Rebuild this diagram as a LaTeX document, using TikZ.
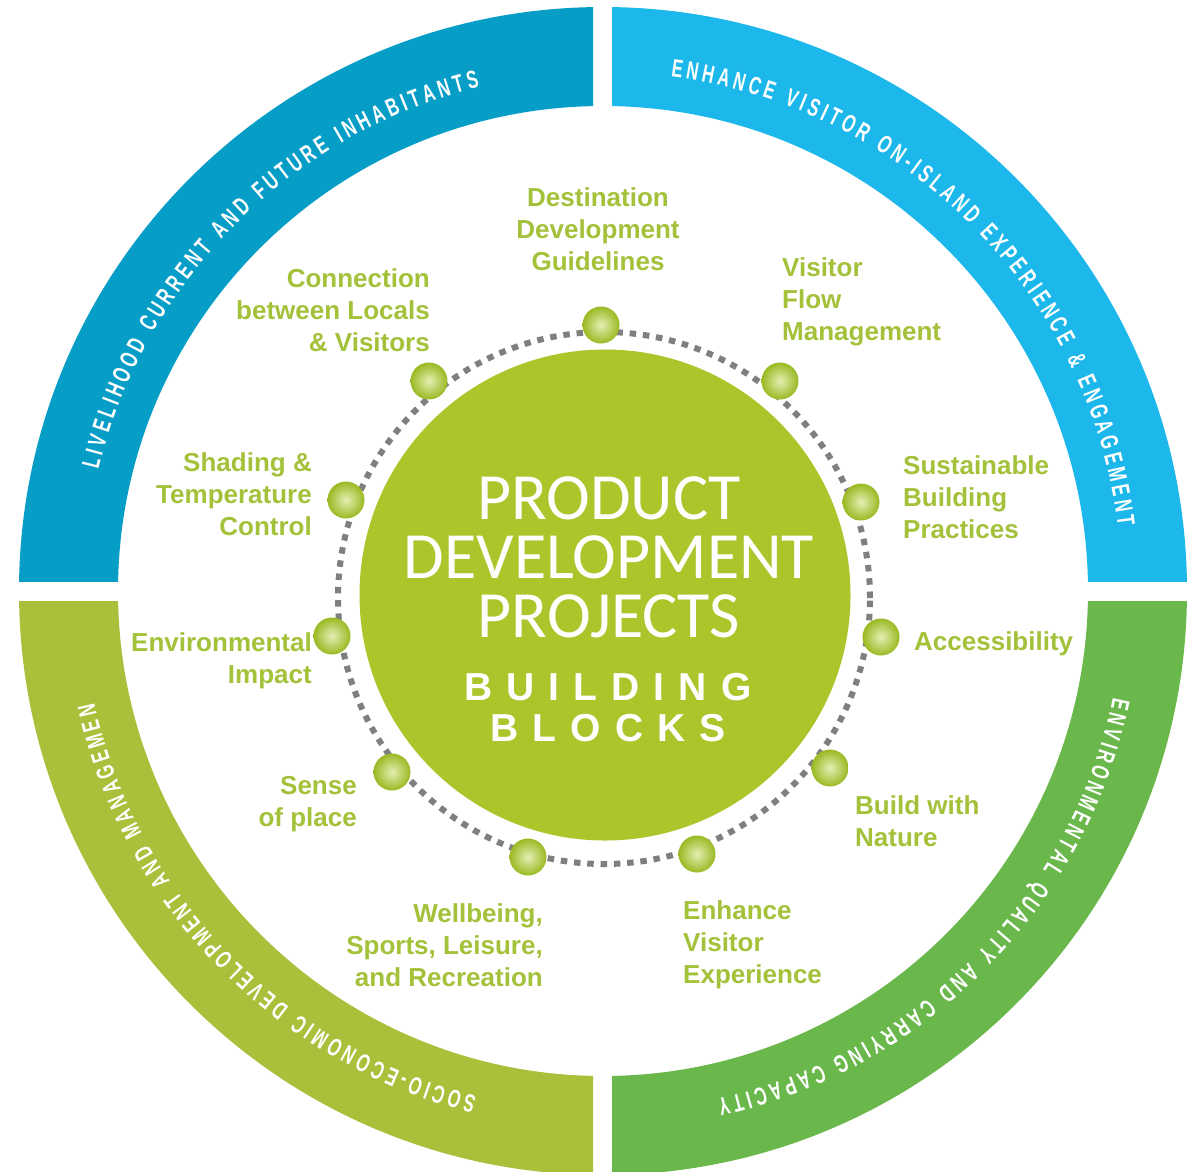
\documentclass[tikz,border=0pt]{standalone}
\usepackage{fontspec}
\setmainfont{Liberation Sans}
\newfontfamily\ringfont[FakeStretch=0.66]{Liberation Sans Bold}
\newfontfamily\titlefont{Carlito}
\newfontfamily\blockfont[LetterSpace=36]{Liberation Sans}
\usetikzlibrary{decorations.text}

\definecolor{tlblue}{HTML}{069DC7}
\definecolor{trblue}{HTML}{1DB8EB}
\definecolor{blgreen}{HTML}{A8C03A}
\definecolor{brgreen}{HTML}{6AB84B}
\definecolor{hubgreen}{HTML}{ADC52B}
\definecolor{labgreen}{HTML}{A4C13A}
\definecolor{ballhi}{HTML}{E4EEB4}
\definecolor{balllo}{HTML}{9AB922}
\definecolor{dotgray}{HTML}{7F7F7F}

\tikzset{
  lab/.style={font=\bfseries\fontsize{26}{32}\selectfont, text=labgreen, inner sep=0pt},
  ball/.style={circle, inner sep=0pt, minimum size=37pt, inner color=ballhi, outer color=balllo},
  ringtext/.style={decorate, decoration={text along path, text align=fit to path,
    text color=white, text={|\ringfont\fontsize{25}{25}\selectfont|#1}}},
}

\begin{document}
\begin{tikzpicture}[x=1pt,y=1pt]
	\useasboundingbox (0,-1171) rectangle (1194,0);
	\fill[white] (0,-1171) rectangle (1194,0);
	\coordinate (ringc) at (603,-591);
	\coordinate (dotc) at (604,-598);
	
	% outer ring, four quarters
	\foreach \col/\xa/\ya/\xb/\yb in {tlblue/0/-581/593/0, trblue/612/-581/1194/0,
		blgreen/0/-1171/593/-601, brgreen/612/-1171/1194/-601}{
		\begin{scope}
			\clip (\xa,\ya) rectangle (\xb,\yb);
			\fill[\col, even odd rule] (ringc) circle[radius=584] (ringc) circle[radius=485];
		\end{scope}
	}
	
	\path[ringtext={LIVELIHOOD CURRENT AND FUTURE INHABITANTS}]
		(ringc) ++(166.5:519) arc[start angle=166.5, end angle=103.8, radius=519];
	\path[ringtext={ENHANCE VISITOR ON-ISLAND EXPERIENCE {\&} ENGAGEMENT}]
		(ringc) ++(82.5:519) arc[start angle=82.5, end angle=7.2, radius=519];
	\path[ringtext={ENVIRONMENTAL QUALITY AND CARRYING CAPACITY}]
		(ringc) ++(-11.8:521) arc[start angle=-11.8, end angle=-77.3, radius=521];
	\path[ringtext={SOCIO-ECONOMIC DEVELOPMENT AND MANAGEMEN}]
		(ringc) ++(256:521) arc[start angle=256, end angle=192.5, radius=521];
	
	% hub
	\node[circle, fill=hubgreen, minimum size=491pt, inner sep=0pt] (hub) at (605,-595) {};
	\node[font=\titlefont\fontsize{66}{59}\selectfont, text=white, align=center, inner sep=0pt] (title) at (609,-557) {PRODUCT\\DEVELOPMENT\\PROJECTS};
	\node[font=\blockfont\bfseries\fontsize{39}{41}\selectfont, text=white, align=center, inner sep=0pt] (blocks) at (608,-707.5) {BUILDING\\BLOCKS};
	
	\draw[dotgray, line width=6pt, dash pattern=on 6.5pt off 6.8pt] (dotc) circle[radius=266];
	
	\foreach \x/\y [count=\i] in {601/325, 780/381, 861/502, 881/637, 830/768, 697/854,
		528/857, 392/772, 332/636, 346/500, 429/381}
		\node[ball] (b\i) at (\x,-\y) {};
	
	% labels
	\node[lab, align=center] (l1) at (598,-229) {Destination\\Development\\Guidelines};
	\node[lab, align=left, anchor=west] (l2) at (782,-302) {Visitor\\Flow\\Management};
	\node[lab, align=left, anchor=west] (l3) at (903,-497) {Sustainable\\Building\\Practices};
	\node[lab, align=left, anchor=west] (l4) at (914,-644) {Accessibility};
	\node[lab, align=left, anchor=west] (l5) at (855,-821) {Build with\\Nature};
	\node[lab, align=left, anchor=west] (l6) at (683,-945) {Enhance\\Visitor\\Experience};
	\node[lab, align=right, anchor=east] (l7) at (543,-945) {Wellbeing,\\Sports, Leisure,\\and Recreation};
	\node[lab, align=right, anchor=east] (l8) at (357,-804) {Sense\\of place};
	\node[lab, align=right, anchor=east] (l9) at (312,-661) {Environmental\\Impact};
	\node[lab, align=right, anchor=east] (l10) at (312,-494) {Shading \&\\Temperature\\Control};
	\node[lab, align=right, anchor=east] (l11) at (430,-310) {Connection\\between Locals\\\& Visitors};
\end{tikzpicture}
\end{document}
